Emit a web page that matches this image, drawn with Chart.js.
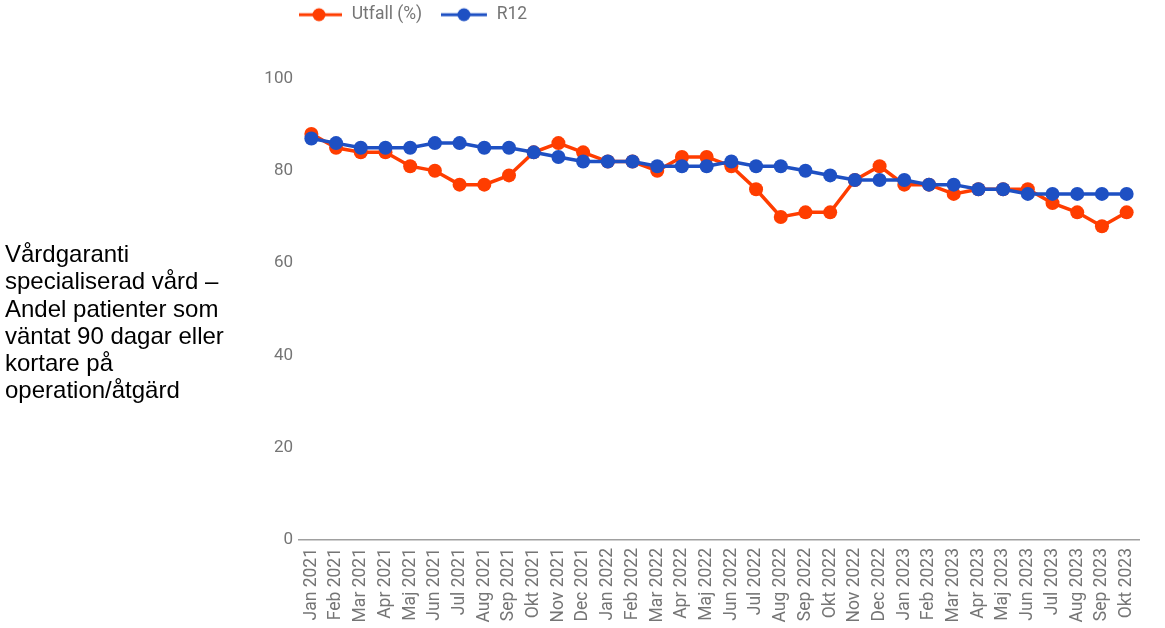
<!DOCTYPE html>
<html>
<head>
<meta charset="utf-8">
<script src="https://cdn.jsdelivr.net/npm/chart.js@4"></script>
<style>
  html, body { margin: 0; padding: 0; background: #fff; }
  #wrap { position: relative; width: 1165px; height: 628px; }
  #chart { position: absolute; left: 0; top: 0; }
  #side { position: absolute; left: 5px; top: 240px; font: 24px "Liberation Sans", Arial, sans-serif; line-height: 27.3px; color: #000; white-space: nowrap; }
</style>
</head>
<body>
<div id="wrap">
  <canvas id="chart" width="1165" height="628"></canvas>
  <div id="side">Vårdgaranti<br>specialiserad vård –<br>Andel patienter som<br>väntat 90 dagar eller<br>kortare på<br>operation/åtgärd</div>
</div>
<script>
// ===== Vårdgaranti – data =====
const months = [
  'Jan 2021','Feb 2021','Mar 2021','Apr 2021','Maj 2021','Jun 2021','Jul 2021','Aug 2021','Sep 2021','Okt 2021','Nov 2021','Dec 2021',
  'Jan 2022','Feb 2022','Mar 2022','Apr 2022','Maj 2022','Jun 2022','Jul 2022','Aug 2022','Sep 2022','Okt 2022','Nov 2022','Dec 2022',
  'Jan 2023','Feb 2023','Mar 2023','Apr 2023','Maj 2023','Jun 2023','Jul 2023','Aug 2023','Sep 2023','Okt 2023'
];
const utfall = [88, 85, 84, 84, 81, 80, 77, 77, 79, 84, 86, 84, 82, 82, 80, 83, 83, 81, 76, 70, 71, 71, 78, 81, 77, 77, 75, 76, 76, 76, 73, 71, 68, 71];
const r12 = [87, 86, 85, 85, 85, 86, 86, 85, 85, 84, 83, 82, 82, 82, 81, 81, 81, 82, 81, 81, 80, 79, 78, 78, 78, 77, 77, 76, 76, 75, 75, 75, 75, 75];
const seriesNames = ['Utfall (%)', 'R12'];
const seriesColors = ['#ff3d00', '#1e50c3'];
const yTicks = [0, 20, 40, 60, 80, 100];

// legend marker: short line with a dot, shifted left so text sits close
function legendIcon(color) {
  const c = document.createElement('canvas');
  c.width = 56; c.height = 16;
  const ctx = c.getContext('2d');
  ctx.strokeStyle = color; ctx.lineWidth = 3;
  ctx.beginPath(); ctx.moveTo(0, 8); ctx.lineTo(46, 8); ctx.stroke();
  ctx.fillStyle = color;
  ctx.beginPath(); ctx.arc(23, 8, 6.5, 0, Math.PI * 2); ctx.fill();
  return c;
}
const icons = seriesColors.map(legendIcon);

// extra space under the legend
const legendGap = {
  id: 'legendGap',
  beforeInit(chart) {
    const fit = chart.legend.fit;
    chart.legend.fit = function() { fit.call(this); this.height += 45; };
  }
};

Chart.defaults.font.family = 'Roboto';
Chart.defaults.font.size = 17;
Chart.defaults.color = '#757575';

new Chart(document.getElementById('chart'), {
  type: 'line',
  data: {
    labels: months,
    datasets: [
      { label: seriesNames[0], data: utfall, borderColor: seriesColors[0], backgroundColor: seriesColors[0], order: 1 },
      { label: seriesNames[1], data: r12, borderColor: seriesColors[1], backgroundColor: seriesColors[1], order: 0 }
    ]
  },
  options: {
    responsive: false,
    animation: false,
    layout: { padding: { left: 259, right: 26, top: 0, bottom: 0 } },
    elements: {
      line: { borderWidth: 3.5, tension: 0 },
      point: { radius: 7, borderWidth: 0, hoverRadius: 7 }
    },
    plugins: {
      tooltip: { enabled: false },
      legend: {
        position: 'top',
        align: 'start',
        fullSize: false,
        labels: {
          usePointStyle: true,
          pointStyleWidth: 38,
          padding: 6,
          font: { size: 17.5 },
          color: '#757575',
          sort: (a, b) => a.datasetIndex - b.datasetIndex,
          generateLabels(chart) {
            const items = Chart.defaults.plugins.legend.labels.generateLabels(chart);
            items.forEach(it => { it.pointStyle = icons[it.datasetIndex]; it.fontColor = '#757575'; });
            items.forEach(it => { if (it.datasetIndex === 0) it.text += '     '; });
            return items;
          }
        }
      }
    },
    scales: {
      x: {
        offset: true,
        grid: { display: false, drawTicks: false },
        border: { display: true, color: '#a0a0a0', width: 1.5 },
        ticks: { minRotation: 90, maxRotation: 90, padding: 8, autoSkip: false, font: { size: 17.5 } },
        afterFit(scale) { scale.height = 88; }
      },
      y: {
        min: 0, max: 100,
        afterBuildTicks(scale) { scale.ticks = yTicks.map(v => ({ value: v })); },
        grid: { display: false, drawTicks: false },
        border: { display: false },
        ticks: { padding: 6 },
        afterFit(scale) { scale.width = 40; }
      }
    }
  },
  plugins: [legendGap]
});
</script>
</body>
</html>
